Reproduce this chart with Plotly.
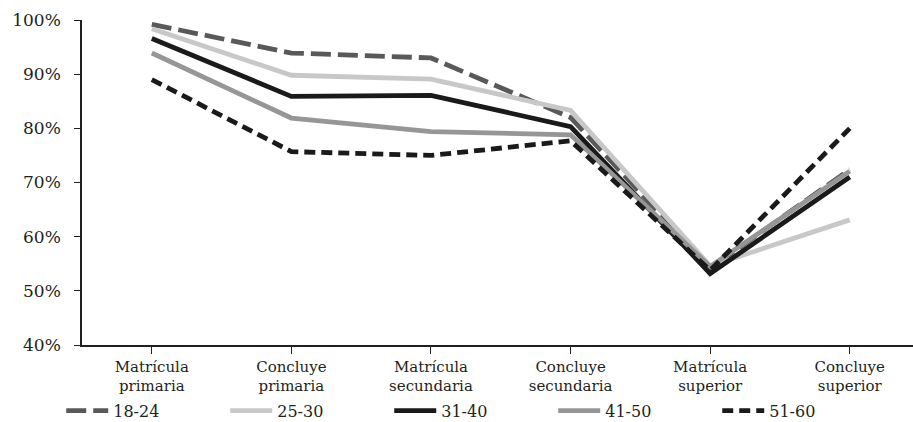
import plotly.graph_objects as go

categories = ["Matrícula<br>primaria", "Concluye<br>primaria", "Matrícula<br>secundaria",
              "Concluye<br>secundaria", "Matrícula<br>superior", "Concluye<br>superior"]
s18_24 = [99.2, 93.9, 93.0, 82.0, 54.2, 72.4]
s25_30 = [98.4, 89.8, 89.1, 83.3, 54.6, 63.1]
s31_40 = [96.6, 85.9, 86.1, 80.3, 53.2, 71.0]
s41_50 = [93.9, 81.9, 79.4, 78.8, 54.5, 72.1]
s51_60 = [89.0, 75.7, 75.0, 77.7, 53.8, 80.0]
tick_vals = [40, 50, 60, 70, 80, 90, 100]

series = [
    ("18-24", s18_24, "#595959", "20px,7px"),
    ("25-30", s25_30, "#c8c8c8", "solid"),
    ("31-40", s31_40, "#1a1a1a", "solid"),
    ("41-50", s41_50, "#969696", "solid"),
    ("51-60", s51_60, "#1a1a1a", "11px,6px"),
]

fig = go.Figure()
for name, vals, color, dash in series:
    fig.add_trace(go.Scatter(x=list(range(len(categories))), y=vals, name=name, mode="lines",
                             line=dict(color=color, width=4.8, dash=dash)))

font_fam = "DejaVu Serif"
fig.update_layout(
    width=913, height=422,
    margin=dict(l=82, r=0, t=20, b=77, autoexpand=False),
    plot_bgcolor="white", paper_bgcolor="white",
    font=dict(family=font_fam, color="#231f20", size=15),
    showlegend=True,
    legend=dict(orientation="h", x=-0.025, xanchor="left",
                y=-0.202, yanchor="middle", bgcolor="rgba(0,0,0,0)",
                entrywidth=107, entrywidthmode="pixels", itemwidth=42,
                font=dict(size=16, family=font_fam), traceorder="normal"),
    xaxis=dict(range=[-0.5, 5.453], tickmode="array", tickvals=list(range(len(categories))),
               ticktext=categories, tickson="boundaries", ticks="outside", ticklen=7,
               tickcolor="#231f20", showline=True, linecolor="#231f20", linewidth=1.5,
               showgrid=False, zeroline=False, tickfont=dict(size=15)),
    yaxis=dict(range=[40, 100], tickmode="array", tickvals=tick_vals,
               ticktext=[f"{v}%" for v in tick_vals], ticks="outside", ticklen=6,
               tickcolor="#231f20", showline=True, linecolor="#231f20", linewidth=1.5,
               showgrid=False, zeroline=False, tickfont=dict(size=17),
               ticklabelstandoff=10),
)
fig.write_html("out.html")
